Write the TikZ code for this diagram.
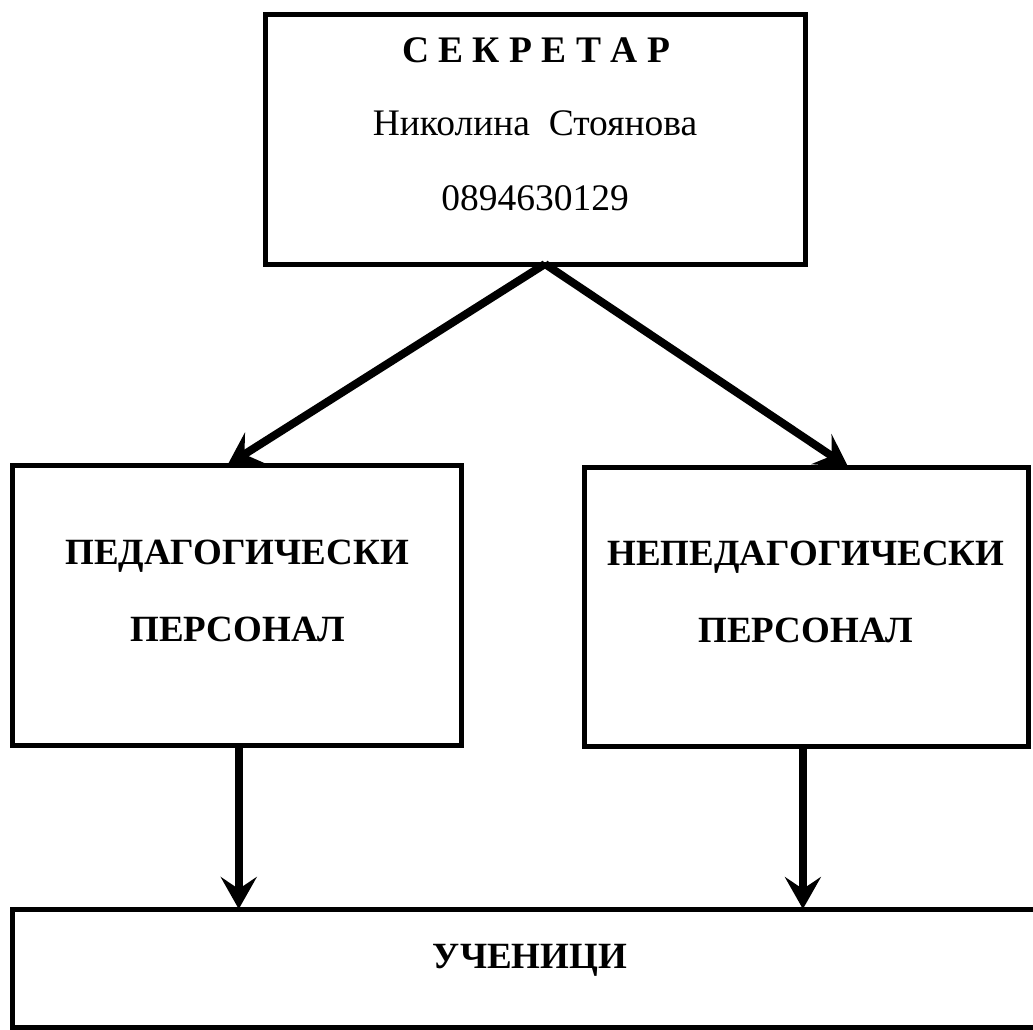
\documentclass[tikz,border=0pt]{standalone}
\usepackage{fontspec}
\setmainfont{Liberation Serif}
\usetikzlibrary{arrows.meta,calc}
\begin{document}
\begin{tikzpicture}[x=1pt,y=-1pt,
  box/.style={draw=black,line width=5pt,rectangle,inner sep=0pt,outer sep=0pt},
  conn/.style={line width=8pt,-{Stealth[length=32pt,width=36pt,inset=12pt]}},
  headtxt/.style={anchor=base,inner sep=0pt,font=\fontsize{37.5}{40}\selectfont\bfseries},
  plaintxt/.style={anchor=base,inner sep=0pt,font=\fontsize{37.5}{40}\selectfont},
  boldtxt/.style={anchor=base,inner sep=0pt,font=\fontsize{37}{40}\selectfont\bfseries}]
\clip (0,0) rectangle (1033,1029);
\fill[white] (0,0) rectangle (1033,1029);
% boxes
\node[box,minimum width=540pt,minimum height=250pt] (sec) at (535,139) {};
\node[box,minimum width=449pt,minimum height=280pt] (ped) at (236.5,605) {};
\node[box,minimum width=444pt,minimum height=279pt] (nep) at (806,606.5) {};
\node[box,minimum width=1038pt,minimum height=118pt] (uch) at (531,968) {};
% texts
\node[headtxt] (sec1) at (536,62) {С Е К Р Е Т А Р};
\node[plaintxt] (sec2) at (535,135) {Николина\ \ Стоянова};
\node[plaintxt] (sec3) at (535,210) {0894630129};
\node[boldtxt] (ped1) at (237,564) {ПЕДАГОГИЧЕСКИ};
\node[boldtxt] (ped2) at (238,641) {ПЕРСОНАЛ};
\node[boldtxt] (nep1) at (806,565) {НЕПЕДАГОГИЧЕСКИ};
\node[boldtxt] (nep2) at (806,642) {ПЕРСОНАЛ};
\node[boldtxt] (uch1) at (530,968) {УЧЕНИЦИ};
% connectors
\coordinate (apex) at ($(sec.south)+(10,0)$);
\coordinate (pedtop) at ($(ped.north west)!0.48!(ped.north east)$);
\coordinate (neptop) at ($(nep.north west)!0.595!(nep.north east)$);
\coordinate (pedbot) at ($(ped.south west)!0.505!(ped.south east)$);
\coordinate (nepbot) at ($(nep.south west)!0.493!(nep.south east)$);
\draw[conn] (apex) -- (pedtop);
\draw[conn] (apex) -- (neptop);
\draw[conn] (pedbot) -- (pedbot |- uch.north);
\draw[conn] (nepbot) -- (nepbot |- uch.north);
\end{tikzpicture}
\end{document}
